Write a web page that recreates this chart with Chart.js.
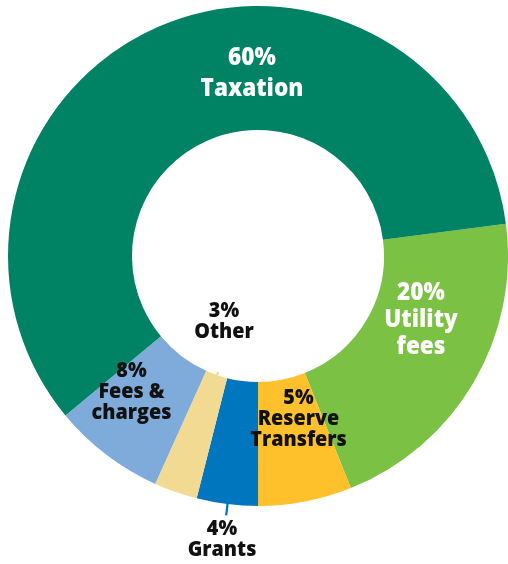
<!DOCTYPE html>
<html>
<head>
<meta charset="utf-8">
<script src="https://cdn.jsdelivr.net/npm/chart.js@4.4.1/dist/chart.umd.min.js"></script>
<style>
  html, body { margin: 0; padding: 0; background: #ffffff; }
  #wrap { width: 508px; height: 564px; position: relative; }
</style>
</head>
<body>
<div id="wrap"><canvas id="c" width="508" height="564"></canvas></div>
<script>
const categories = ['Utility fees', 'Reserve Transfers', 'Grants', 'Other', 'Fees & charges', 'Taxation'];
const shares = [21.0, 6.05, 3.95, 2.8, 7.25, 58.95];
const labelLines = [
  ['20%', 'Utility', 'fees'],
  ['5%', 'Reserve', 'Transfers'],
  ['4%', 'Grants'],
  ['3%', 'Other'],
  ['8%', 'Fees &', 'charges'],
  ['60%', 'Taxation']
];

// ---- styles / placement ----
const colors = ['#7bc143', '#fec12b', '#0076be', '#f3da93', '#7eabd9', '#008265'];
const textColors = ['#ffffff', '#111111', '#111111', '#111111', '#111111', '#ffffff'];
const fontSizes = [24, 21, 21, 21, 21, 24];
const lineHeights = [27, 21, 21, 21, 21, 31];
const textSqueeze = 0.94;
// label block centre, as fractions of outer radius relative to chart centre
const labelOffsets = [
  [0.652, 0.256],
  [0.162, 0.652],
  [-0.144, 1.136],
  [-0.136, 0.262],
  [-0.506, 0.544],
  [-0.024, -0.73]
];
// leader lines: [angle deg clockwise from top, r0 fraction, r1 fraction] or null
const leaders = [null, null, [187, 0.995, 1.045], [199, 0.49, 0.53], null, null];

const labelPlugin = {
  id: 'sliceLabels',
  afterDraw(chart) {
    const meta = chart.getDatasetMeta(0);
    const ctx = chart.ctx;
    const first = meta.data[0];
    const cx = first.x, cy = first.y, R = first.outerRadius;
    ctx.save();
    meta.data.forEach((arc, i) => {
      const ld = leaders[i];
      if (ld) {
        const a = (ld[0] - 90) * Math.PI / 180;
        ctx.strokeStyle = colors[i];
        ctx.lineWidth = 2.2;
        ctx.beginPath();
        ctx.moveTo(cx + Math.cos(a) * R * ld[1], cy + Math.sin(a) * R * ld[1]);
        ctx.lineTo(cx + Math.cos(a) * R * ld[2], cy + Math.sin(a) * R * ld[2]);
        ctx.stroke();
      }
      const lines = labelLines[i];
      const bx = cx + labelOffsets[i][0] * R;
      const by = cy + labelOffsets[i][1] * R;
      const lh = lineHeights[i];
      ctx.font = '800 ' + fontSizes[i] + 'px "Open Sans", sans-serif';
      ctx.fillStyle = textColors[i];
      ctx.textAlign = 'center';
      ctx.textBaseline = 'middle';
      const top = by - (lines.length - 1) * lh / 2;
      lines.forEach((t, k) => {
        ctx.save();
        ctx.translate(bx, top + k * lh);
        ctx.scale(textSqueeze, 1);
        ctx.fillText(t, 0, 0);
        ctx.restore();
      });
    });
    ctx.restore();
  }
};

new Chart(document.getElementById('c'), {
  type: 'doughnut',
  data: {
    labels: categories,
    datasets: [{
      data: shares,
      backgroundColor: colors,
      borderWidth: 0
    }]
  },
  options: {
    responsive: false,
    animation: false,
    rotation: 82.6,
    cutout: '50.4%',
    layout: { padding: { left: 8, right: 0, top: 6, bottom: 58 } },
    plugins: { legend: { display: false }, tooltip: { enabled: false } }
  },
  plugins: [labelPlugin]
});
</script>
</body>
</html>
